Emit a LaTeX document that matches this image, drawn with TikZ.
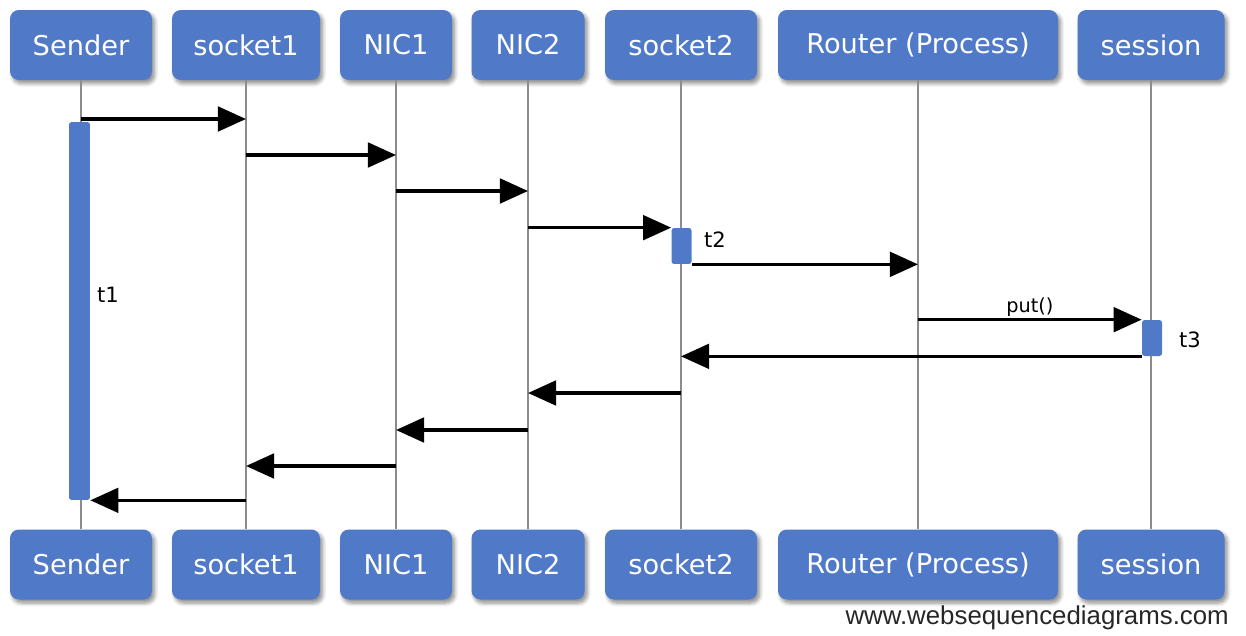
\documentclass[tikz,border=0pt]{standalone}
\usepackage{fontspec}
\setmainfont{DejaVu Sans}
\newfontfamily\webfont{Liberation Sans}
\usetikzlibrary{arrows.meta,shadows.blur}

\definecolor{actorblue}{RGB}{80,122,199}
\definecolor{lifegray}{RGB}{140,140,140}

\tikzset{
  actor/.style={rectangle, rounded corners=5pt, fill=actorblue, text=white,
    minimum height=1.4cm, inner sep=0pt, font=\fontsize{15.5}{18}\selectfont,
    blur shadow={shadow xshift=1.5pt, shadow yshift=-2pt, shadow blur steps=6, shadow opacity=45}},
  lifeline/.style={draw=lifegray, line width=1.3pt},
  actbar/.style={rectangle, rounded corners=1.5pt, fill=actorblue, inner sep=0pt, minimum width=0.4cm},
  msg/.style={draw=black, line width=1.9pt, -{Triangle[length=16pt,width=14pt]}},
  note/.style={font=\fontsize{12}{14}\selectfont},
  msglabel/.style={font=\fontsize{11}{13}\selectfont, inner sep=1pt},
}

\begin{document}
\begin{tikzpicture}[x=0.02cm, y=-0.02cm]
        \useasboundingbox (0,0) rectangle (1246,635);

        % Participants on top and bottom, with their lifelines
        \foreach \x/\n/\t/\w in {81/snd/Sender/142, 246/sk1/socket1/148, 396/nic1/NIC1/112,
                                 528/nic2/NIC2/113, 681/sk2/socket2/152,
                                 918/rtr/Router (Process)/280, 1151/ses/session/147} {
            \node[actor, minimum width=\w*0.02cm] (\n-top) at (\x,45) {\t};
            \node[actor, minimum width=\w*0.02cm] (\n-bot) at (\x,564.5) {\t};
            \draw[lifeline] (\n-top.south) -- (\n-bot.north);
        }

        % Activation bars
        \node[actbar, minimum width=0.42cm, minimum height=7.56cm] (act1) at (79.5,311) {};
        \node[actbar, minimum height=0.72cm] (act2) at (681.5,246) {};
        \node[actbar, minimum height=0.72cm] (act3) at (1152,338) {};

        % Outgoing messages
        \draw[msg] (snd-top |- 0,119) -- (sk1-top |- 0,119);
        \draw[msg] (sk1-top |- 0,155) -- (nic1-top |- 0,155);
        \draw[msg] (nic1-top |- 0,191) -- (nic2-top |- 0,191);
        \draw[msg] (nic2-top |- act2.north) -- (act2.north west);
        \draw[msg] (act2.south east) -- (rtr-top |- act2.south);
        \draw[msg] (rtr-top |- act3.north) -- (act3.north west)
            node[midway, above, msglabel] (putlbl) {put()};

        % Replies back to the sender
        \draw[msg] (act3.south west) -- (sk2-top |- act3.south);
        \draw[msg] (sk2-top |- 0,393) -- (nic2-top |- 0,393);
        \draw[msg] (nic2-top |- 0,430) -- (nic1-top |- 0,430);
        \draw[msg] (nic1-top |- 0,466) -- (sk1-top |- 0,466);
        \draw[msg] (sk1-top |- act1.south) -- (act1.south east);

        % Timing notes
        \node[note] (t1) at (108,295) {t1};
        \node[note] (t2) at (715,240) {t2};
        \node[note] (t3) at (1190,340) {t3};

        \node[anchor=base east, text=black!85, font=\webfont\fontsize{14.7}{17}\selectfont]
            (credit) at (1235,624) {www.websequencediagrams.com};
\end{tikzpicture}
\end{document}
